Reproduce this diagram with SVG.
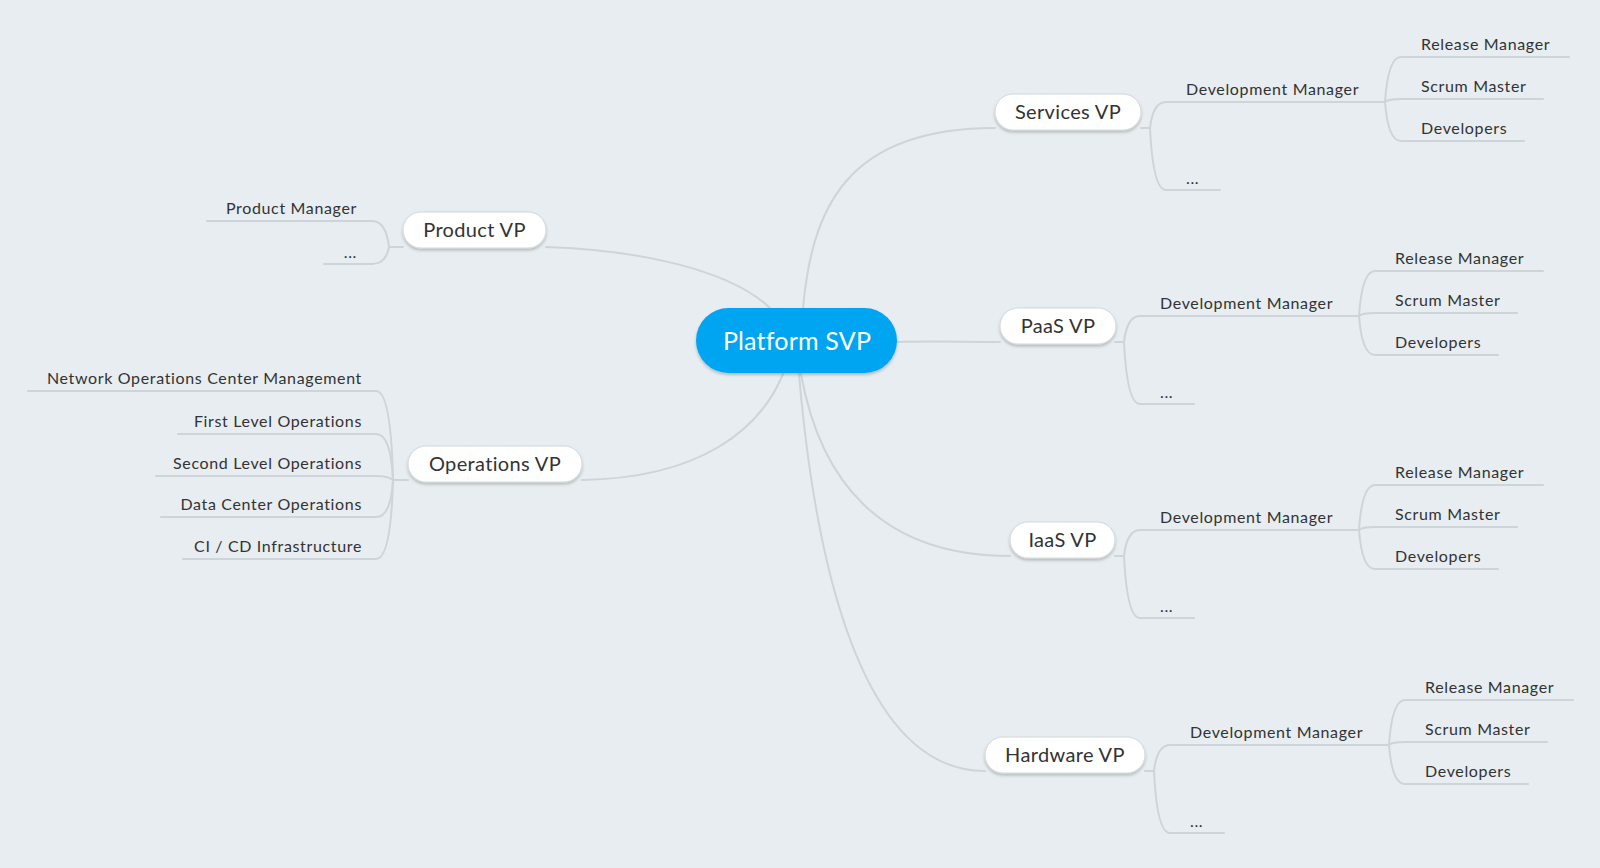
<svg xmlns="http://www.w3.org/2000/svg" width="1600" height="868" viewBox="0 0 1600 868">
<defs>
<filter id="sh" x="-20%" y="-30%" width="140%" height="170%">
<feDropShadow dx="0" dy="2" stdDeviation="1.5" flood-color="#000" flood-opacity="0.22"/>
</filter>
<style>
.ln{fill:none;stroke:#cdd5d9;stroke-width:2;stroke-linecap:round}
.nd{fill:#fff;stroke:#d2d8db;stroke-width:1}
.nt{font-family:Lato,"Open Sans","Liberation Sans",sans-serif;font-size:20px;letter-spacing:0.35px;fill:#333;text-anchor:middle}
.lt{font-family:Lato,"Open Sans","Liberation Sans",sans-serif;font-size:16px;letter-spacing:0.65px;fill:#333}
.rt{text-anchor:end}
</style>
</defs>
<rect width="1600" height="868" fill="#e7edf0"/>
<g id="connectors">
<path class="ln" d="M803,308 C812,210 845,128 995,128"/>
<path class="ln" d="M770,308 C730,270 640,250 546,247"/>
<path class="ln" d="M783,374 C760,430 700,478 582,480"/>
<path class="ln" d="M897,342 C940,341 960,342 1000,342"/>
<path class="ln" d="M801,374 C820,480 880,556 1010,556"/>
<path class="ln" d="M799,374 C815,560 860,771 985,771"/>
<g id="sub-product">
<path class="ln" d="M403,247 L389,247"/>
<path class="ln" d="M389,247 Q386,221 372,221 L207,221"/>
<path class="ln" d="M389,247 Q386,264 372,264 L324,264"/>
</g>
<g id="sub-operations">
<path class="ln" d="M408,480 L393,480"/>
<path class="ln" d="M393,480 Q391,391 376,391 L28,391"/>
<path class="ln" d="M393,480 Q391,434 376,434 L178,434"/>
<path class="ln" d="M393,480 Q388,476 376,476 L156,476"/>
<path class="ln" d="M393,480 Q391,517 376,517 L161,517"/>
<path class="ln" d="M393,480 Q391,559 376,559 L183,559"/>
</g>
<g id="sub-services" transform="translate(26,-214)">
<path class="ln" d="M1115,342 L1124,342"/>
<path class="ln" d="M1124,342 Q1127,316 1140,316 L1359,316"/>
<path class="ln" d="M1124,342 Q1127,404 1140,404 L1194,404"/>
<path class="ln" d="M1359,316 Q1362,271 1375,271 L1543,271"/>
<path class="ln" d="M1359,316 Q1362,313 1375,313 L1517,313"/>
<path class="ln" d="M1359,316 Q1362,355 1375,355 L1498,355"/>
</g>
<g id="sub-paas">
<path class="ln" d="M1115,342 L1124,342"/>
<path class="ln" d="M1124,342 Q1127,316 1140,316 L1359,316"/>
<path class="ln" d="M1124,342 Q1127,404 1140,404 L1194,404"/>
<path class="ln" d="M1359,316 Q1362,271 1375,271 L1543,271"/>
<path class="ln" d="M1359,316 Q1362,313 1375,313 L1517,313"/>
<path class="ln" d="M1359,316 Q1362,355 1375,355 L1498,355"/>
</g>
<g id="sub-iaas" transform="translate(0,214)">
<path class="ln" d="M1115,342 L1124,342"/>
<path class="ln" d="M1124,342 Q1127,316 1140,316 L1359,316"/>
<path class="ln" d="M1124,342 Q1127,404 1140,404 L1194,404"/>
<path class="ln" d="M1359,316 Q1362,271 1375,271 L1543,271"/>
<path class="ln" d="M1359,316 Q1362,313 1375,313 L1517,313"/>
<path class="ln" d="M1359,316 Q1362,355 1375,355 L1498,355"/>
</g>
<g id="sub-hardware" transform="translate(30,429)">
<path class="ln" d="M1115,342 L1124,342"/>
<path class="ln" d="M1124,342 Q1127,316 1140,316 L1359,316"/>
<path class="ln" d="M1124,342 Q1127,404 1140,404 L1194,404"/>
<path class="ln" d="M1359,316 Q1362,271 1375,271 L1543,271"/>
<path class="ln" d="M1359,316 Q1362,313 1375,313 L1517,313"/>
<path class="ln" d="M1359,316 Q1362,355 1375,355 L1498,355"/>
</g>
</g>
<g id="platform-svp">
<rect x="696" y="308" width="201" height="65" rx="32.5" fill="#02a5f2" filter="url(#sh)"/>
<text x="797" y="350" style="font-family:Lato,'Open Sans','Liberation Sans',sans-serif;font-size:25px;letter-spacing:0.2px;fill:#fff;text-anchor:middle">Platform SVP</text>
</g>
<g id="product-vp">
<rect class="nd" x="403" y="212" width="143" height="36" rx="18" filter="url(#sh)"/>
<text class="nt" x="474.5" y="237">Product VP</text>
</g>
<g id="operations-vp">
<rect class="nd" x="408" y="446" width="174" height="36" rx="18" filter="url(#sh)"/>
<text class="nt" x="495" y="471">Operations VP</text>
</g>
<g id="services-vp">
<rect class="nd" x="995" y="94" width="146" height="36" rx="18" filter="url(#sh)"/>
<text class="nt" x="1068" y="119">Services VP</text>
</g>
<g id="paas-vp">
<rect class="nd" x="1000" y="308" width="116" height="36" rx="18" filter="url(#sh)"/>
<text class="nt" x="1058" y="333">PaaS VP</text>
</g>
<g id="iaas-vp">
<rect class="nd" x="1010" y="522" width="105" height="36" rx="18" filter="url(#sh)"/>
<text class="nt" x="1062.5" y="547">IaaS VP</text>
</g>
<g id="hardware-vp">
<rect class="nd" x="985" y="737" width="160" height="36" rx="18" filter="url(#sh)"/>
<text class="nt" x="1065" y="762">Hardware VP</text>
</g>
<g id="product-leaves">
<g id="product-manager"><text class="lt rt" x="357" y="214">Product Manager</text></g>
<g id="product-more"><text class="lt rt" x="357" y="258">...</text></g>
</g>
<g id="operations-leaves">
<g id="noc-management"><text class="lt rt" x="362" y="384">Network Operations Center Management</text></g>
<g id="first-level"><text class="lt rt" x="362" y="427">First Level Operations</text></g>
<g id="second-level"><text class="lt rt" x="362" y="469">Second Level Operations</text></g>
<g id="data-center"><text class="lt rt" x="362" y="510">Data Center Operations</text></g>
<g id="cicd"><text class="lt rt" x="362" y="552">CI / CD Infrastructure</text></g>
</g>
<g id="services-leaves" transform="translate(26,-214)">
<g id="services-devmgr"><text class="lt" x="1160" y="309">Development Manager</text></g>
<g id="services-more"><text class="lt" x="1160" y="398">...</text></g>
<g id="services-release"><text class="lt" x="1395" y="264">Release Manager</text></g>
<g id="services-scrum"><text class="lt" x="1395" y="306">Scrum Master</text></g>
<g id="services-devs"><text class="lt" x="1395" y="348">Developers</text></g>
</g>
<g id="paas-leaves">
<g id="paas-devmgr"><text class="lt" x="1160" y="309">Development Manager</text></g>
<g id="paas-more"><text class="lt" x="1160" y="398">...</text></g>
<g id="paas-release"><text class="lt" x="1395" y="264">Release Manager</text></g>
<g id="paas-scrum"><text class="lt" x="1395" y="306">Scrum Master</text></g>
<g id="paas-devs"><text class="lt" x="1395" y="348">Developers</text></g>
</g>
<g id="iaas-leaves" transform="translate(0,214)">
<g id="iaas-devmgr"><text class="lt" x="1160" y="309">Development Manager</text></g>
<g id="iaas-more"><text class="lt" x="1160" y="398">...</text></g>
<g id="iaas-release"><text class="lt" x="1395" y="264">Release Manager</text></g>
<g id="iaas-scrum"><text class="lt" x="1395" y="306">Scrum Master</text></g>
<g id="iaas-devs"><text class="lt" x="1395" y="348">Developers</text></g>
</g>
<g id="hardware-leaves" transform="translate(30,429)">
<g id="hardware-devmgr"><text class="lt" x="1160" y="309">Development Manager</text></g>
<g id="hardware-more"><text class="lt" x="1160" y="398">...</text></g>
<g id="hardware-release"><text class="lt" x="1395" y="264">Release Manager</text></g>
<g id="hardware-scrum"><text class="lt" x="1395" y="306">Scrum Master</text></g>
<g id="hardware-devs"><text class="lt" x="1395" y="348">Developers</text></g>
</g>
</svg>
